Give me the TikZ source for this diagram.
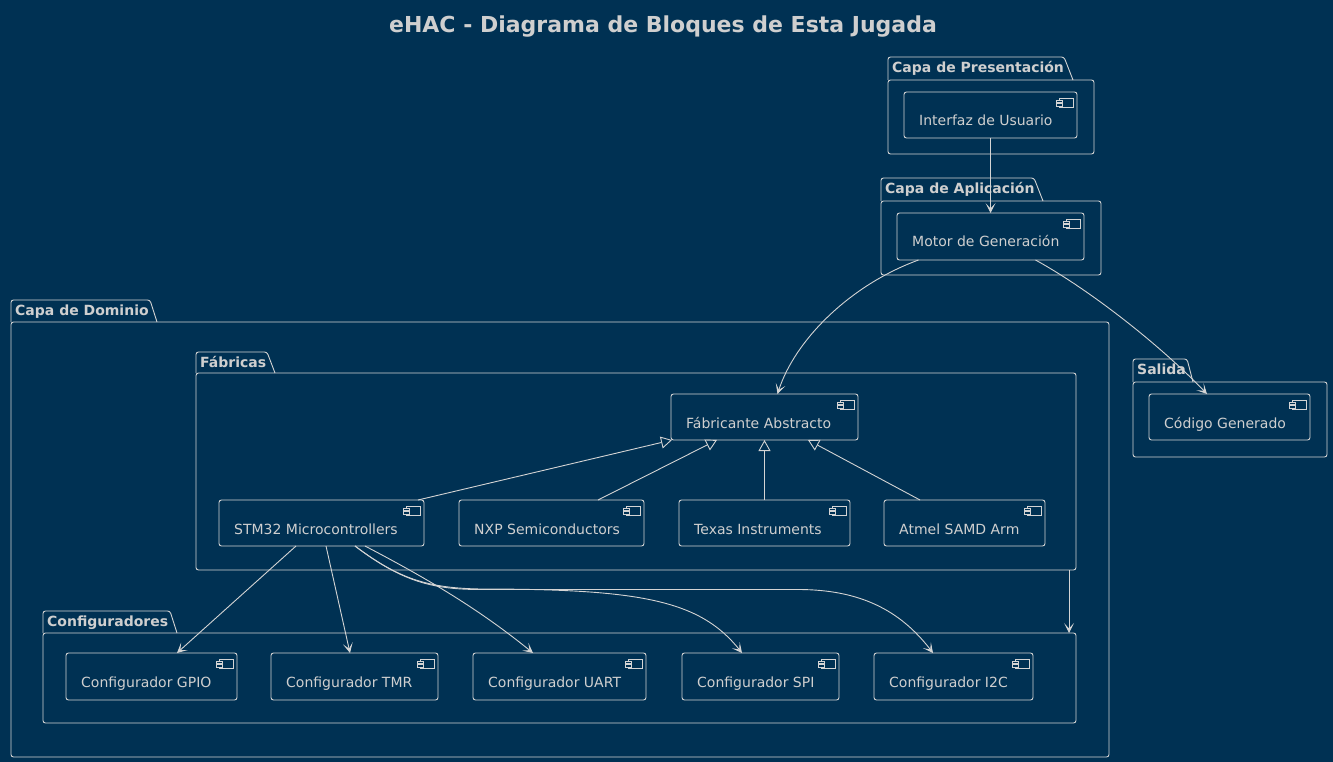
\documentclass[tikz,border=0pt]{standalone}
\usepackage{fontspec}
\setmainfont{DejaVu Sans}
\usetikzlibrary{arrows.meta}
\definecolor{bg}{HTML}{003153}
\definecolor{ln}{HTML}{D4D4D4}
\definecolor{tx}{HTML}{CFCFCF}
\tikzset{
  lnst/.style={draw=ln, line width=0.9pt},
  compbox/.style={lnst, rectangle, rounded corners=2.5pt, inner sep=0pt, outer sep=0pt},
  pkgbox/.style={lnst, rectangle, rounded corners=2.5pt, inner sep=0pt, outer sep=0pt},
  comptext/.style={text=tx, font=\fontsize{14}{16}\selectfont, inner sep=0pt},
  pktext/.style={text=tx, font=\bfseries\fontsize{14}{16}\selectfont, inner sep=0pt},
  arr/.style={lnst, -{Stealth[length=10pt,width=10pt,inset=5.5pt]}},
  inh/.style={lnst, -{Triangle[open,length=11pt,width=12pt,fill=bg]}},
}
\newcommand{\compicon}[2]{%
  \draw[lnst, line width=0.8pt] (#1-18,#2+6) rectangle (#1-4,#2+15);
  \draw[lnst, line width=0.8pt, fill=bg] (#1-21,#2+8) rectangle (#1-15,#2+10.5);
  \draw[lnst, line width=0.8pt, fill=bg] (#1-21,#2+11.5) rectangle (#1-15,#2+14);
}
\newcommand{\comp}[6]{%
  \node[compbox, minimum width=#4pt-#2pt, minimum height=#5pt-#3pt] (#1) at ({(#2+#4)/2},{(#3+#5)/2}) {};
  \node[comptext, anchor=base west] at (#2+15,#3+34) {#6};
  \compicon{#4}{#3}
}
% name x1 ytop ybody x2 y2 xtabtop xtabbottom label
\newcommand{\pkg}[9]{%
  \node[pkgbox, minimum width=#5pt-#2pt, minimum height=#6pt-#4pt] (#1) at ({(#2+#5)/2},{(#4+#6)/2}) {};
  \draw[lnst, rounded corners=2.5pt] (#2,#4) -- (#2,#3) -- (#7,#3) -- (#8,#4);
  \node[pktext, anchor=base west] at (#2+4,#3+15.5) {#9};
}
\begin{document}
\begin{tikzpicture}[x=1pt,y=-1pt]
\fill[bg] (0,0) rectangle (1333,762);
\useasboundingbox (0,0) rectangle (1333,762);

\node[text=tx, font=\bfseries\fontsize{22}{26}\selectfont] (title) at (663,27) {eHAC - Diagrama de Bloques de Esta Jugada};

% packages
\pkg{ppres}{888}{57}{80}{1094}{154}{1064}{1073}{Capa de Presentación}
\pkg{papl}{881}{178}{201}{1101}{275}{1034}{1043}{Capa de Aplicación}
\pkg{pdom}{11}{300}{322}{1109}{757}{150}{157}{Capa de Dominio}
\pkg{pfab}{196}{352}{373}{1076}{570}{267}{275}{Fábricas}
\pkg{pcfg}{43}{611}{633}{1076}{723}{170}{177}{Configuradores}
\pkg{psal}{1133}{359}{382}{1327}{457}{1187}{1193}{Salida}

% components
\comp{ui}{904}{92}{1077}{138}{Interfaz de Usuario}
\comp{mot}{897}{213}{1084}{260}{Motor de Generación}
\comp{fab}{671}{394}{858}{440}{Fábricante Abstracto}
\comp{stm}{219}{500}{424}{546}{STM32 Microcontrollers}
\comp{nxp}{459}{500}{644}{546}{NXP Semiconductors}
\comp{ti}{679}{500}{850}{546}{Texas Instruments}
\comp{atm}{884}{500}{1045}{546}{Atmel SAMD Arm}
\comp{gpio}{66}{653}{237}{700}{Configurador GPIO}
\comp{tmr}{271}{653}{438}{700}{Configurador TMR}
\comp{uart}{473}{653}{646}{700}{Configurador UART}
\comp{spi}{682}{653}{839}{700}{Configurador SPI}
\comp{i2c}{874}{653}{1033}{700}{Configurador I2C}
\comp{cod}{1149}{394}{1310}{440}{Código Generado}

% connectors
\draw[arr] (ui.south) -- (mot.north);
\draw[arr] ([xshift=-72pt]mot.south) .. controls (850,285) and (795,340) .. ([xshift=13pt]fab.north);
\draw[arr] ([xshift=45pt]mot.south) .. controls (1090,290) and (1160,345) .. ([xshift=-22.5pt]cod.north);

\draw[inh] ([xshift=96.5pt]stm.north) -- ([xshift=-92.5pt]fab.south);
\draw[inh] ([xshift=46.5pt]nxp.north) -- ([xshift=-47.5pt]fab.south);
\draw[inh] (ti.north) -- (fab.south);
\draw[inh] ([xshift=-44.5pt]atm.north) -- ([xshift=43.5pt]fab.south);

\draw[arr] ([xshift=-7pt]pfab.south east) -- ([xshift=-7pt]pcfg.north east);

\draw[arr] ([xshift=-25.5pt]stm.south) -- ([xshift=25.5pt]gpio.north);
\draw[arr] ([xshift=4.5pt]stm.south) -- ([xshift=-4.5pt]tmr.north);
\draw[arr] ([xshift=43.5pt]stm.south) .. controls (430,580) and (480,610) .. ([xshift=-26.5pt]uart.north);
\draw[arr] ([xshift=33.5pt]stm.south) .. controls (400,580) and (430,588) .. (480,589) .. controls (640,589) and (700,600) .. ([xshift=-18.5pt]spi.north);
\draw[arr] ([xshift=33.5pt]stm.south) .. controls (400,580) and (430,589.5) .. (480,589.5) -- (800,589.5) .. controls (860,590) and (900,610) .. ([xshift=-20.5pt]i2c.north);
\end{tikzpicture}
\end{document}
